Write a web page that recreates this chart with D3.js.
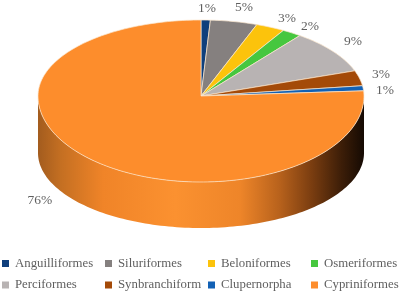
<!DOCTYPE html>
<html>
<head>
<meta charset="utf-8">
<script src="https://cdnjs.cloudflare.com/ajax/libs/d3/7.8.5/d3.min.js"></script>
<style>
  html, body { margin: 0; padding: 0; background: #fff; }
  svg { filter: blur(0.35px); }
  text { font-family: "Liberation Serif", serif; fill: #5f5f5f; }
</style>
</head>
<body>
<div id="chart"></div>
<script>
const categories = ["Anguilliformes", "Siluriformes", "Beloniformes", "Osmeriformes",
  "Perciformes", "Synbranchiform", "Clupernorpha", "Cypriniformes"];
const shares = [1, 5, 3, 2, 9, 3, 1, 76];
const colors = ["#0f3f7c", "#85807f", "#fcc30c", "#46c73f", "#b8b3b3", "#a44a08", "#1261b5", "#fd8d2c"];

const width = 400, height = 294;
const cx = 201, cy = 96, rx = 163, ryTop = 76, ryBottom = 86;
const floorY = 153, floorRy = 75;
// label anchor points, as fraction of the ellipse radius
const labelOffsets = [[0.037, 1.17], [0.264, 1.18], [0.528, 1.04], [0.669, 0.934],
  [0.933, 0.737], [1.104, 0.30], [1.129, 0.092], [-0.988, -1.355]];
const legendCols = [2, 105, 208, 311];

const svg = d3.select("#chart").append("svg")
  .attr("width", width).attr("height", height)
  .style("display", "block");

const wallGrad = svg.append("defs").append("linearGradient")
  .attr("id", "wall")
  .attr("gradientUnits", "userSpaceOnUse")
  .attr("x1", cx - rx).attr("x2", cx + rx).attr("y1", 0).attr("y2", 0);
[[0, "#a35c1e"], [0.07, "#c46f22"], [0.2, "#f08428"], [0.42, "#fb9130"], [0.62, "#ee8529"],
 [0.74, "#b8621c"], [0.84, "#7a3d10"], [0.93, "#3d1e08"], [1, "#150a03"]]
  .forEach(([o, c]) => wallGrad.append("stop").attr("offset", o).attr("stop-color", c));

// tilted circle: the front half is a bit taller than the back,
// and the near-top angles get squeezed by the perspective
function rim(a) {
  const t = a - 0.04 * Math.sin(2 * a);
  const c = Math.cos(t);
  return [cx + rx * Math.sin(t), cy - (c > 0 ? ryTop : ryBottom) * c];
}
function floorRim(a) {
  return [cx + rx * Math.sin(a), floorY - floorRy * Math.cos(a)];
}
function sweep(a0, a1, fn = rim) {
  const n = Math.max(2, Math.ceil(Math.abs(a1 - a0) * 40));
  return d3.range(n + 1).map(i => fn(a0 + (a1 - a0) * i / n));
}
const line = d3.line();

const slices = d3.pie().sort(null).value(d => d)(shares);

// side wall, front half of the big slice only
const wallStart = Math.PI / 2;
const wallEnd = Math.PI * 1.5;
svg.append("path")
  .attr("d", line(sweep(wallStart, wallEnd).concat(sweep(wallEnd, wallStart, floorRim))) + "Z")
  .attr("fill", "url(#wall)");

svg.selectAll("path.slice")
  .data(slices)
  .join("path")
  .attr("class", "slice")
  .attr("d", d => line([[cx, cy]].concat(sweep(d.startAngle, d.endAngle))) + "Z")
  .attr("fill", (d, i) => colors[i])
  .attr("stroke", "#fbe6cf")
  .attr("stroke-width", 0.7)
  .attr("stroke-linejoin", "round");

svg.selectAll("text.pct")
  .data(shares)
  .join("text")
  .attr("class", "pct")
  .attr("x", (d, i) => cx + rx * labelOffsets[i][0])
  .attr("y", (d, i) => cy - ryTop * labelOffsets[i][1] + 1.5)
  .attr("text-anchor", "middle")
  .attr("dominant-baseline", "middle")
  .attr("font-size", 13.5)
  .text(d => d + "%");

const legend = svg.selectAll("g.legend")
  .data(categories)
  .join("g")
  .attr("class", "legend")
  .attr("transform", (d, i) => `translate(${legendCols[i % 4]},${264 + Math.floor(i / 4) * 21.5})`);
legend.append("rect")
  .attr("y", -4).attr("width", 7).attr("height", 7)
  .attr("fill", (d, i) => colors[i]);
legend.append("text")
  .attr("x", 13).attr("y", 0)
  .attr("dominant-baseline", "middle")
  .attr("font-size", 12.8)
  .text(d => d);
</script>
</body>
</html>
